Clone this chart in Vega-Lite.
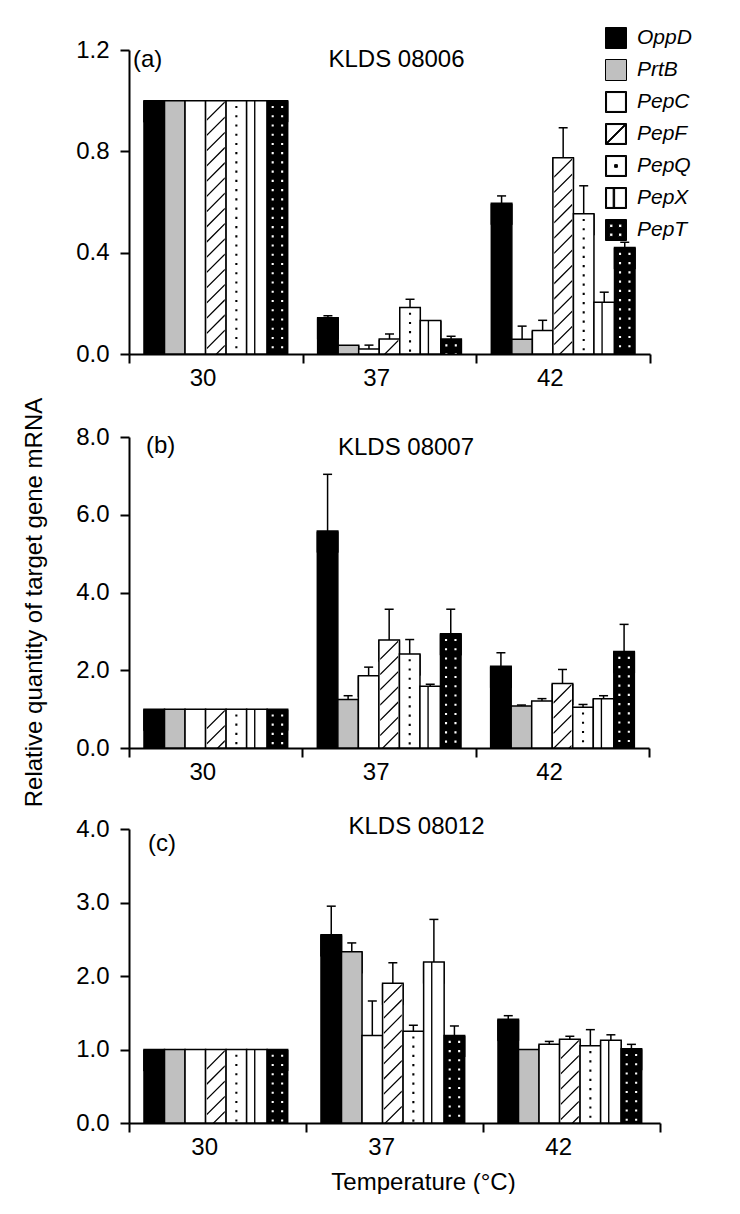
{
"$schema": "https://vega.github.io/schema/vega-lite/v6.json",
"padding": {"left": 21, "top": 27, "right": 0, "bottom": 0},
"spacing": 7,
"datasets": {"d": [
{"p":"a","temp":"30","gene":"OppD","value":1,"hi":1},{"p":"a","temp":"30","gene":"PrtB","value":1,"hi":1},{"p":"a","temp":"30","gene":"PepC","value":1,"hi":1},{"p":"a","temp":"30","gene":"PepF","value":1,"hi":1},{"p":"a","temp":"30","gene":"PepQ","value":1,"hi":1},{"p":"a","temp":"30","gene":"PepX","value":1,"hi":1},{"p":"a","temp":"30","gene":"PepT","value":1,"hi":1},
{"p":"a","temp":"37","gene":"OppD","value":0.143,"hi":0.151},{"p":"a","temp":"37","gene":"PrtB","value":0.035,"hi":0.035},{"p":"a","temp":"37","gene":"PepC","value":0.02,"hi":0.035},{"p":"a","temp":"37","gene":"PepF","value":0.059,"hi":0.079},{"p":"a","temp":"37","gene":"PepQ","value":0.184,"hi":0.216},{"p":"a","temp":"37","gene":"PepX","value":0.132,"hi":0.132},{"p":"a","temp":"37","gene":"PepT","value":0.059,"hi":0.07},
{"p":"a","temp":"42","gene":"OppD","value":0.595,"hi":0.624},{"p":"a","temp":"42","gene":"PrtB","value":0.058,"hi":0.11},{"p":"a","temp":"42","gene":"PepC","value":0.093,"hi":0.133},{"p":"a","temp":"42","gene":"PepF","value":0.775,"hi":0.893},{"p":"a","temp":"42","gene":"PepQ","value":0.554,"hi":0.664},{"p":"a","temp":"42","gene":"PepX","value":0.204,"hi":0.244},{"p":"a","temp":"42","gene":"PepT","value":0.42,"hi":0.441},
{"p":"b","temp":"30","gene":"OppD","value":1,"hi":1},{"p":"b","temp":"30","gene":"PrtB","value":1,"hi":1},{"p":"b","temp":"30","gene":"PepC","value":1,"hi":1},{"p":"b","temp":"30","gene":"PepF","value":1,"hi":1},{"p":"b","temp":"30","gene":"PepQ","value":1,"hi":1},{"p":"b","temp":"30","gene":"PepX","value":1,"hi":1},{"p":"b","temp":"30","gene":"PepT","value":1,"hi":1},
{"p":"b","temp":"37","gene":"OppD","value":5.58,"hi":7.04},{"p":"b","temp":"37","gene":"PrtB","value":1.25,"hi":1.345},{"p":"b","temp":"37","gene":"PepC","value":1.86,"hi":2.08},{"p":"b","temp":"37","gene":"PepF","value":2.78,"hi":3.57},{"p":"b","temp":"37","gene":"PepQ","value":2.42,"hi":2.79},{"p":"b","temp":"37","gene":"PepX","value":1.59,"hi":1.64},{"p":"b","temp":"37","gene":"PepT","value":2.94,"hi":3.57},
{"p":"b","temp":"42","gene":"OppD","value":2.1,"hi":2.45},{"p":"b","temp":"42","gene":"PrtB","value":1.08,"hi":1.105},{"p":"b","temp":"42","gene":"PepC","value":1.21,"hi":1.27},{"p":"b","temp":"42","gene":"PepF","value":1.66,"hi":2.02},{"p":"b","temp":"42","gene":"PepQ","value":1.05,"hi":1.12},{"p":"b","temp":"42","gene":"PepX","value":1.27,"hi":1.345},{"p":"b","temp":"42","gene":"PepT","value":2.48,"hi":3.18},
{"p":"c","temp":"30","gene":"OppD","value":1,"hi":1},{"p":"c","temp":"30","gene":"PrtB","value":1,"hi":1},{"p":"c","temp":"30","gene":"PepC","value":1,"hi":1},{"p":"c","temp":"30","gene":"PepF","value":1,"hi":1},{"p":"c","temp":"30","gene":"PepQ","value":1,"hi":1},{"p":"c","temp":"30","gene":"PepX","value":1,"hi":1},{"p":"c","temp":"30","gene":"PepT","value":1,"hi":1},
{"p":"c","temp":"37","gene":"OppD","value":2.56,"hi":2.95},{"p":"c","temp":"37","gene":"PrtB","value":2.33,"hi":2.45},{"p":"c","temp":"37","gene":"PepC","value":1.19,"hi":1.66},{"p":"c","temp":"37","gene":"PepF","value":1.9,"hi":2.18},{"p":"c","temp":"37","gene":"PepQ","value":1.25,"hi":1.33},{"p":"c","temp":"37","gene":"PepX","value":2.19,"hi":2.77},{"p":"c","temp":"37","gene":"PepT","value":1.19,"hi":1.32},
{"p":"c","temp":"42","gene":"OppD","value":1.41,"hi":1.46},{"p":"c","temp":"42","gene":"PrtB","value":1.0,"hi":1.0},{"p":"c","temp":"42","gene":"PepC","value":1.07,"hi":1.11},{"p":"c","temp":"42","gene":"PepF","value":1.14,"hi":1.18},{"p":"c","temp":"42","gene":"PepQ","value":1.05,"hi":1.27},{"p":"c","temp":"42","gene":"PepX","value":1.125,"hi":1.2},{"p":"c","temp":"42","gene":"PepT","value":1.01,"hi":1.07}
]},
"data": {"name": "d"},
"config": {
  "view": {"stroke": null},
  "font": "Liberation Sans",
  "axis": {"domainColor": "black", "domainWidth": 2, "tickColor": "black", "tickWidth": 2, "tickSize": 9, "labelFont": "Liberation Sans", "labelFontSize": 24, "labelColor": "black", "grid": false, "titleFont": "Liberation Sans", "titleFontSize": 24, "titleFontWeight": "normal", "titleColor": "black"}
},
"vconcat": [
{
 "width": 521, "height": 304,
 "transform": [{"filter": "datum.p === 'a'"}],
 "layer": [
  {"mark": {"type": "point", "filled": true, "opacity": 1, "size": 441, "stroke": "black", "strokeWidth": 1, "yOffset": 11, "clip": true},
   "encoding": {
    "x": {"field": "temp", "type": "nominal", "sort": ["30","37","42"]},
    "xOffset": {"field": "gene", "type": "nominal", "sort": ["OppD","PrtB","PepC","PepF","PepQ","PepX","PepT"]},
    "y": {"field": "value", "type": "quantitative"},
    "color": {"field": "gene", "type": "nominal", "scale": {"domain": ["OppD","PrtB","PepC","PepF","PepQ","PepX","PepT"], "range": ["black","#c0c0c0","black","black","black","black","black"]}, "legend": {"title": null, "orient": "none", "legendX": 476, "legendY": -23, "symbolSize": 441, "symbolStrokeWidth": 1, "symbolStrokeColor": "black", "labelFontSize": 21, "labelFontStyle": "italic", "labelFont": "Liberation Sans", "labelColor": "black", "labelOffset": 10, "rowPadding": 6, "padding": 0, "labelBaseline": "middle"}},
    "shape": {"field": "gene", "type": "nominal", "scale": {"domain": ["OppD","PrtB","PepC","PepF","PepQ","PepX","PepT"], "range": ["M-1,-1H1V1H-1Z","M-1,-1H1V1H-1Z","M-1,-1H1V1H-1ZM-.9,-.9V.9H.9V-.9Z","M-1,-1H1V1H-1ZM-.9,-.9V.9H.9V-.9ZM-.9,.82L.82,-.9H.9V-.82L-.82,.9H-.9Z","M-1,-1H1V1H-1ZM-.9,-.9V.9H.9V-.9ZM-.13,-.13H.13V.13H-.13Z","M-1,-1H1V1H-1ZM-.9,-.9V.9H.9V-.9ZM-.27,-.9H-.13V.9H-.27Z","M-1,-1H1V1H-1ZM-.61,-.56V-.24H-.29V-.56ZM.24,-.56V-.24H.56V-.56ZM-.61,.29V.61H-.29V.29ZM.24,.29V.61H.56V.29Z"]}, "legend": {"title": null, "orient": "none", "legendX": 476, "legendY": -23, "symbolSize": 441, "symbolStrokeWidth": 1, "symbolStrokeColor": "black", "labelFontSize": 21, "labelFontStyle": "italic", "labelFont": "Liberation Sans", "labelColor": "black", "labelOffset": 10, "rowPadding": 6, "padding": 0, "labelBaseline": "middle"}}
   }},
  {"mark": {"type": "bar", "stroke": "black", "strokeWidth": 1.5, "opacity": 1},
   "encoding": {
    "x": {"field": "temp", "type": "nominal", "sort": ["30","37","42"], "scale": {"paddingInner": 0, "paddingOuter": 0}, "axis": {"title": null, "labelAngle": 0, "tickBand": "extent", "labelPadding": 15}},
    "xOffset": {"field": "gene", "type": "nominal", "sort": ["OppD","PrtB","PepC","PepF","PepQ","PepX","PepT"], "scale": {"domain": ["OppD","PrtB","PepC","PepF","PepQ","PepX","PepT"], "paddingInner": 0, "paddingOuter": 0.73}},
    "y": {"field": "value", "type": "quantitative", "scale": {"domain": [0, 1.2], "nice": false}, "axis": {"values": [0, 0.4, 0.8, 1.2], "format": ".1f", "title": null, "labelPadding": 11}},
    "fill": {"field": "gene", "type": "nominal", "scale": {"domain": ["OppD","PrtB","PepC","PepF","PepQ","PepX","PepT"], "range": ["black","#c0c0c0","white","white","white","white","black"]}, "legend": null}
   }},
  {"transform": [{"filter": "datum.gene === 'PepF'"}],
   "mark": {"type": "point", "shape": "M-.85,1.75l1.7,-1.7v.17l-1.7,1.7zM-.85,3.2l1.7,-1.7v.17l-1.7,1.7zM-.85,4.65l1.7,-1.7v.17l-1.7,1.7zM-.85,6.1l1.7,-1.7v.17l-1.7,1.7zM-.85,7.55l1.7,-1.7v.17l-1.7,1.7zM-.85,9l1.7,-1.7v.17l-1.7,1.7zM-.85,10.45l1.7,-1.7v.17l-1.7,1.7zM-.85,11.9l1.7,-1.7v.17l-1.7,1.7zM-.85,13.35l1.7,-1.7v.17l-1.7,1.7zM-.85,14.8l1.7,-1.7v.17l-1.7,1.7zM-.85,16.25l1.7,-1.7v.17l-1.7,1.7zM-.85,17.7l1.7,-1.7v.17l-1.7,1.7zM-.85,19.15l1.7,-1.7v.17l-1.7,1.7zM-.85,20.6l1.7,-1.7v.17l-1.7,1.7zM-.85,22.05l1.7,-1.7v.17l-1.7,1.7zM-.85,23.5l1.7,-1.7v.17l-1.7,1.7zM-.85,24.95l1.7,-1.7v.17l-1.7,1.7zM-.85,26.4l1.7,-1.7v.17l-1.7,1.7z", "size": 441, "filled": true, "fill": "black", "opacity": 1, "strokeWidth": 0, "clip": true},
   "encoding": {"x": {"field": "temp", "type": "nominal", "sort": ["30","37","42"]}, "xOffset": {"field": "gene", "type": "nominal", "sort": ["OppD","PrtB","PepC","PepF","PepQ","PepX","PepT"]}, "y": {"field": "value", "type": "quantitative"}}},
  {"transform": [{"filter": "datum.gene === 'PepQ'"}],
   "mark": {"type": "point", "shape": "M-.1,.5h.2v.2h-.2zM-.1,1.38h.2v.2h-.2zM-.1,2.26h.2v.2h-.2zM-.1,3.14h.2v.2h-.2zM-.1,4.02h.2v.2h-.2zM-.1,4.9h.2v.2h-.2zM-.1,5.78h.2v.2h-.2zM-.1,6.66h.2v.2h-.2zM-.1,7.54h.2v.2h-.2zM-.1,8.42h.2v.2h-.2zM-.1,9.3h.2v.2h-.2zM-.1,10.18h.2v.2h-.2zM-.1,11.06h.2v.2h-.2zM-.1,11.94h.2v.2h-.2zM-.1,12.82h.2v.2h-.2zM-.1,13.7h.2v.2h-.2zM-.1,14.58h.2v.2h-.2zM-.1,15.46h.2v.2h-.2zM-.1,16.34h.2v.2h-.2zM-.1,17.22h.2v.2h-.2zM-.1,18.1h.2v.2h-.2zM-.1,18.98h.2v.2h-.2zM-.1,19.86h.2v.2h-.2zM-.1,20.74h.2v.2h-.2zM-.1,21.62h.2v.2h-.2zM-.1,22.5h.2v.2h-.2zM-.1,23.38h.2v.2h-.2zM-.1,24.26h.2v.2h-.2zM-.1,25.14h.2v.2h-.2zM-.1,26.02h.2v.2h-.2z", "size": 441, "filled": true, "fill": "black", "opacity": 1, "strokeWidth": 0, "clip": true},
   "encoding": {"x": {"field": "temp", "type": "nominal", "sort": ["30","37","42"]}, "xOffset": {"field": "gene", "type": "nominal", "sort": ["OppD","PrtB","PepC","PepF","PepQ","PepX","PepT"]}, "y": {"field": "value", "type": "quantitative"}}},
  {"transform": [{"filter": "datum.gene === 'PepX'"}],
   "mark": {"type": "point", "shape": "M-.27,0h.13v27h-.13z", "size": 441, "filled": true, "fill": "black", "opacity": 1, "strokeWidth": 0, "clip": true},
   "encoding": {"x": {"field": "temp", "type": "nominal", "sort": ["30","37","42"]}, "xOffset": {"field": "gene", "type": "nominal", "sort": ["OppD","PrtB","PepC","PepF","PepQ","PepX","PepT"]}, "y": {"field": "value", "type": "quantitative"}}},
  {"transform": [{"filter": "datum.gene === 'PepT'"}],
   "mark": {"type": "point", "shape": "M-.55,.5h.2v.2h-.2zM.35,.5h.2v.2h-.2zM-.55,1.38h.2v.2h-.2zM.35,1.38h.2v.2h-.2zM-.55,2.26h.2v.2h-.2zM.35,2.26h.2v.2h-.2zM-.55,3.14h.2v.2h-.2zM.35,3.14h.2v.2h-.2zM-.55,4.02h.2v.2h-.2zM.35,4.02h.2v.2h-.2zM-.55,4.9h.2v.2h-.2zM.35,4.9h.2v.2h-.2zM-.55,5.78h.2v.2h-.2zM.35,5.78h.2v.2h-.2zM-.55,6.66h.2v.2h-.2zM.35,6.66h.2v.2h-.2zM-.55,7.54h.2v.2h-.2zM.35,7.54h.2v.2h-.2zM-.55,8.42h.2v.2h-.2zM.35,8.42h.2v.2h-.2zM-.55,9.3h.2v.2h-.2zM.35,9.3h.2v.2h-.2zM-.55,10.18h.2v.2h-.2zM.35,10.18h.2v.2h-.2zM-.55,11.06h.2v.2h-.2zM.35,11.06h.2v.2h-.2zM-.55,11.94h.2v.2h-.2zM.35,11.94h.2v.2h-.2zM-.55,12.82h.2v.2h-.2zM.35,12.82h.2v.2h-.2zM-.55,13.7h.2v.2h-.2zM.35,13.7h.2v.2h-.2zM-.55,14.58h.2v.2h-.2zM.35,14.58h.2v.2h-.2zM-.55,15.46h.2v.2h-.2zM.35,15.46h.2v.2h-.2zM-.55,16.34h.2v.2h-.2zM.35,16.34h.2v.2h-.2zM-.55,17.22h.2v.2h-.2zM.35,17.22h.2v.2h-.2zM-.55,18.1h.2v.2h-.2zM.35,18.1h.2v.2h-.2zM-.55,18.98h.2v.2h-.2zM.35,18.98h.2v.2h-.2zM-.55,19.86h.2v.2h-.2zM.35,19.86h.2v.2h-.2zM-.55,20.74h.2v.2h-.2zM.35,20.74h.2v.2h-.2zM-.55,21.62h.2v.2h-.2zM.35,21.62h.2v.2h-.2zM-.55,22.5h.2v.2h-.2zM.35,22.5h.2v.2h-.2zM-.55,23.38h.2v.2h-.2zM.35,23.38h.2v.2h-.2zM-.55,24.26h.2v.2h-.2zM.35,24.26h.2v.2h-.2zM-.55,25.14h.2v.2h-.2zM.35,25.14h.2v.2h-.2z", "size": 441, "filled": true, "fill": "white", "opacity": 1, "strokeWidth": 0, "clip": true},
   "encoding": {"x": {"field": "temp", "type": "nominal", "sort": ["30","37","42"]}, "xOffset": {"field": "gene", "type": "nominal", "sort": ["OppD","PrtB","PepC","PepF","PepQ","PepX","PepT"]}, "y": {"field": "value", "type": "quantitative"}}},
  {"transform": [{"filter": "datum.hi > datum.value"}],
   "mark": {"type": "rule", "color": "black", "strokeWidth": 1.5},
   "encoding": {"x": {"field": "temp", "type": "nominal", "sort": ["30","37","42"]}, "xOffset": {"field": "gene", "type": "nominal", "sort": ["OppD","PrtB","PepC","PepF","PepQ","PepX","PepT"]}, "y": {"field": "value", "type": "quantitative"}, "y2": {"field": "hi"}}},
  {"transform": [{"filter": "datum.hi > datum.value"}],
   "mark": {"type": "tick", "color": "black", "orient": "horizontal", "size": 9, "thickness": 1.5, "opacity": 1},
   "encoding": {"x": {"field": "temp", "type": "nominal", "sort": ["30","37","42"]}, "xOffset": {"field": "gene", "type": "nominal", "sort": ["OppD","PrtB","PepC","PepF","PepQ","PepX","PepT"]}, "y": {"field": "hi", "type": "quantitative"}}},
  {"data": {"values": [{}]},
   "mark": {"type": "text", "align": "left", "baseline": "middle", "dx": 4, "fontSize": 24, "font": "Liberation Sans", "color": "black"},
   "encoding": {"x": {"datum": "30", "bandPosition": 0}, "y": {"datum": 1.16, "type": "quantitative"}, "text": {"value": "(a)"}}},
  {"data": {"values": [{}]},
   "mark": {"type": "text", "align": "center", "baseline": "middle", "dx": 7, "fontSize": 24, "font": "Liberation Sans", "color": "black"},
   "encoding": {"x": {"datum": "37"}, "y": {"datum": 1.16, "type": "quantitative"}, "text": {"value": "KLDS 08006"}}}
 ]
},
{
 "width": 520, "height": 311,
 "transform": [{"filter": "datum.p === 'b'"}],
 "layer": [
  {"mark": {"type": "point", "filled": true, "opacity": 1, "size": 441, "stroke": "black", "strokeWidth": 1, "yOffset": 11, "clip": true},
   "encoding": {
    "x": {"field": "temp", "type": "nominal", "sort": ["30","37","42"]},
    "xOffset": {"field": "gene", "type": "nominal", "sort": ["OppD","PrtB","PepC","PepF","PepQ","PepX","PepT"]},
    "y": {"field": "value", "type": "quantitative"},
    "color": {"field": "gene", "type": "nominal", "scale": {"domain": ["OppD","PrtB","PepC","PepF","PepQ","PepX","PepT"], "range": ["black","#c0c0c0","black","black","black","black","black"]}, "legend": {"title": null, "orient": "none", "legendX": 487, "legendY": -22, "symbolSize": 441, "symbolStrokeWidth": 1, "symbolStrokeColor": "black", "labelFontSize": 21, "labelFontStyle": "italic", "labelFont": "Liberation Sans", "labelColor": "black", "labelOffset": 10, "rowPadding": 6, "padding": 0, "labelBaseline": "middle"}},
    "shape": {"field": "gene", "type": "nominal", "scale": {"domain": ["OppD","PrtB","PepC","PepF","PepQ","PepX","PepT"], "range": ["M-1,-1H1V1H-1Z","M-1,-1H1V1H-1Z","M-1,-1H1V1H-1ZM-.9,-.9V.9H.9V-.9Z","M-1,-1H1V1H-1ZM-.9,-.9V.9H.9V-.9ZM-.9,.82L.82,-.9H.9V-.82L-.82,.9H-.9Z","M-1,-1H1V1H-1ZM-.9,-.9V.9H.9V-.9ZM-.13,-.13H.13V.13H-.13Z","M-1,-1H1V1H-1ZM-.9,-.9V.9H.9V-.9ZM-.27,-.9H-.13V.9H-.27Z","M-1,-1H1V1H-1ZM-.61,-.56V-.24H-.29V-.56ZM.24,-.56V-.24H.56V-.56ZM-.61,.29V.61H-.29V.29ZM.24,.29V.61H.56V.29Z"]}, "legend": {"title": null, "orient": "none", "legendX": 487, "legendY": -22, "symbolSize": 441, "symbolStrokeWidth": 1, "symbolStrokeColor": "black", "labelFontSize": 21, "labelFontStyle": "italic", "labelFont": "Liberation Sans", "labelColor": "black", "labelOffset": 10, "rowPadding": 6, "padding": 0, "labelBaseline": "middle"}}
   }},
  {"mark": {"type": "bar", "stroke": "black", "strokeWidth": 1.5, "opacity": 1},
   "encoding": {
    "x": {"field": "temp", "type": "nominal", "sort": ["30","37","42"], "scale": {"paddingInner": 0, "paddingOuter": 0}, "axis": {"title": null, "labelAngle": 0, "tickBand": "extent", "labelPadding": 15}},
    "xOffset": {"field": "gene", "type": "nominal", "sort": ["OppD","PrtB","PepC","PepF","PepQ","PepX","PepT"], "scale": {"domain": ["OppD","PrtB","PepC","PepF","PepQ","PepX","PepT"], "paddingInner": 0, "paddingOuter": 0.73}},
    "y": {"field": "value", "type": "quantitative", "scale": {"domain": [0, 8], "nice": false}, "axis": {"values": [0, 2, 4, 6, 8], "format": ".1f", "title": "Relative quantity of target gene mRNA", "titleX": -95, "titleY": 165, "titleAlign": "center", "titleBaseline": "middle", "titleAngle": -90, "labelPadding": 11}},
    "fill": {"field": "gene", "type": "nominal", "scale": {"domain": ["OppD","PrtB","PepC","PepF","PepQ","PepX","PepT"], "range": ["black","#c0c0c0","white","white","white","white","black"]}, "legend": null}
   }},
  {"transform": [{"filter": "datum.gene === 'PepF'"}],
   "mark": {"type": "point", "shape": "M-.85,1.75l1.7,-1.7v.17l-1.7,1.7zM-.85,3.2l1.7,-1.7v.17l-1.7,1.7zM-.85,4.65l1.7,-1.7v.17l-1.7,1.7zM-.85,6.1l1.7,-1.7v.17l-1.7,1.7zM-.85,7.55l1.7,-1.7v.17l-1.7,1.7zM-.85,9l1.7,-1.7v.17l-1.7,1.7zM-.85,10.45l1.7,-1.7v.17l-1.7,1.7zM-.85,11.9l1.7,-1.7v.17l-1.7,1.7zM-.85,13.35l1.7,-1.7v.17l-1.7,1.7zM-.85,14.8l1.7,-1.7v.17l-1.7,1.7zM-.85,16.25l1.7,-1.7v.17l-1.7,1.7zM-.85,17.7l1.7,-1.7v.17l-1.7,1.7zM-.85,19.15l1.7,-1.7v.17l-1.7,1.7zM-.85,20.6l1.7,-1.7v.17l-1.7,1.7zM-.85,22.05l1.7,-1.7v.17l-1.7,1.7zM-.85,23.5l1.7,-1.7v.17l-1.7,1.7zM-.85,24.95l1.7,-1.7v.17l-1.7,1.7zM-.85,26.4l1.7,-1.7v.17l-1.7,1.7z", "size": 441, "filled": true, "fill": "black", "opacity": 1, "strokeWidth": 0, "clip": true},
   "encoding": {"x": {"field": "temp", "type": "nominal", "sort": ["30","37","42"]}, "xOffset": {"field": "gene", "type": "nominal", "sort": ["OppD","PrtB","PepC","PepF","PepQ","PepX","PepT"]}, "y": {"field": "value", "type": "quantitative"}}},
  {"transform": [{"filter": "datum.gene === 'PepQ'"}],
   "mark": {"type": "point", "shape": "M-.1,.5h.2v.2h-.2zM-.1,1.38h.2v.2h-.2zM-.1,2.26h.2v.2h-.2zM-.1,3.14h.2v.2h-.2zM-.1,4.02h.2v.2h-.2zM-.1,4.9h.2v.2h-.2zM-.1,5.78h.2v.2h-.2zM-.1,6.66h.2v.2h-.2zM-.1,7.54h.2v.2h-.2zM-.1,8.42h.2v.2h-.2zM-.1,9.3h.2v.2h-.2zM-.1,10.18h.2v.2h-.2zM-.1,11.06h.2v.2h-.2zM-.1,11.94h.2v.2h-.2zM-.1,12.82h.2v.2h-.2zM-.1,13.7h.2v.2h-.2zM-.1,14.58h.2v.2h-.2zM-.1,15.46h.2v.2h-.2zM-.1,16.34h.2v.2h-.2zM-.1,17.22h.2v.2h-.2zM-.1,18.1h.2v.2h-.2zM-.1,18.98h.2v.2h-.2zM-.1,19.86h.2v.2h-.2zM-.1,20.74h.2v.2h-.2zM-.1,21.62h.2v.2h-.2zM-.1,22.5h.2v.2h-.2zM-.1,23.38h.2v.2h-.2zM-.1,24.26h.2v.2h-.2zM-.1,25.14h.2v.2h-.2zM-.1,26.02h.2v.2h-.2z", "size": 441, "filled": true, "fill": "black", "opacity": 1, "strokeWidth": 0, "clip": true},
   "encoding": {"x": {"field": "temp", "type": "nominal", "sort": ["30","37","42"]}, "xOffset": {"field": "gene", "type": "nominal", "sort": ["OppD","PrtB","PepC","PepF","PepQ","PepX","PepT"]}, "y": {"field": "value", "type": "quantitative"}}},
  {"transform": [{"filter": "datum.gene === 'PepX'"}],
   "mark": {"type": "point", "shape": "M-.27,0h.13v27h-.13z", "size": 441, "filled": true, "fill": "black", "opacity": 1, "strokeWidth": 0, "clip": true},
   "encoding": {"x": {"field": "temp", "type": "nominal", "sort": ["30","37","42"]}, "xOffset": {"field": "gene", "type": "nominal", "sort": ["OppD","PrtB","PepC","PepF","PepQ","PepX","PepT"]}, "y": {"field": "value", "type": "quantitative"}}},
  {"transform": [{"filter": "datum.gene === 'PepT'"}],
   "mark": {"type": "point", "shape": "M-.55,.5h.2v.2h-.2zM.35,.5h.2v.2h-.2zM-.55,1.38h.2v.2h-.2zM.35,1.38h.2v.2h-.2zM-.55,2.26h.2v.2h-.2zM.35,2.26h.2v.2h-.2zM-.55,3.14h.2v.2h-.2zM.35,3.14h.2v.2h-.2zM-.55,4.02h.2v.2h-.2zM.35,4.02h.2v.2h-.2zM-.55,4.9h.2v.2h-.2zM.35,4.9h.2v.2h-.2zM-.55,5.78h.2v.2h-.2zM.35,5.78h.2v.2h-.2zM-.55,6.66h.2v.2h-.2zM.35,6.66h.2v.2h-.2zM-.55,7.54h.2v.2h-.2zM.35,7.54h.2v.2h-.2zM-.55,8.42h.2v.2h-.2zM.35,8.42h.2v.2h-.2zM-.55,9.3h.2v.2h-.2zM.35,9.3h.2v.2h-.2zM-.55,10.18h.2v.2h-.2zM.35,10.18h.2v.2h-.2zM-.55,11.06h.2v.2h-.2zM.35,11.06h.2v.2h-.2zM-.55,11.94h.2v.2h-.2zM.35,11.94h.2v.2h-.2zM-.55,12.82h.2v.2h-.2zM.35,12.82h.2v.2h-.2zM-.55,13.7h.2v.2h-.2zM.35,13.7h.2v.2h-.2zM-.55,14.58h.2v.2h-.2zM.35,14.58h.2v.2h-.2zM-.55,15.46h.2v.2h-.2zM.35,15.46h.2v.2h-.2zM-.55,16.34h.2v.2h-.2zM.35,16.34h.2v.2h-.2zM-.55,17.22h.2v.2h-.2zM.35,17.22h.2v.2h-.2zM-.55,18.1h.2v.2h-.2zM.35,18.1h.2v.2h-.2zM-.55,18.98h.2v.2h-.2zM.35,18.98h.2v.2h-.2zM-.55,19.86h.2v.2h-.2zM.35,19.86h.2v.2h-.2zM-.55,20.74h.2v.2h-.2zM.35,20.74h.2v.2h-.2zM-.55,21.62h.2v.2h-.2zM.35,21.62h.2v.2h-.2zM-.55,22.5h.2v.2h-.2zM.35,22.5h.2v.2h-.2zM-.55,23.38h.2v.2h-.2zM.35,23.38h.2v.2h-.2zM-.55,24.26h.2v.2h-.2zM.35,24.26h.2v.2h-.2zM-.55,25.14h.2v.2h-.2zM.35,25.14h.2v.2h-.2z", "size": 441, "filled": true, "fill": "white", "opacity": 1, "strokeWidth": 0, "clip": true},
   "encoding": {"x": {"field": "temp", "type": "nominal", "sort": ["30","37","42"]}, "xOffset": {"field": "gene", "type": "nominal", "sort": ["OppD","PrtB","PepC","PepF","PepQ","PepX","PepT"]}, "y": {"field": "value", "type": "quantitative"}}},
  {"transform": [{"filter": "datum.hi > datum.value"}],
   "mark": {"type": "rule", "color": "black", "strokeWidth": 1.5},
   "encoding": {"x": {"field": "temp", "type": "nominal", "sort": ["30","37","42"]}, "xOffset": {"field": "gene", "type": "nominal", "sort": ["OppD","PrtB","PepC","PepF","PepQ","PepX","PepT"]}, "y": {"field": "value", "type": "quantitative"}, "y2": {"field": "hi"}}},
  {"transform": [{"filter": "datum.hi > datum.value"}],
   "mark": {"type": "tick", "color": "black", "orient": "horizontal", "size": 9, "thickness": 1.5, "opacity": 1},
   "encoding": {"x": {"field": "temp", "type": "nominal", "sort": ["30","37","42"]}, "xOffset": {"field": "gene", "type": "nominal", "sort": ["OppD","PrtB","PepC","PepF","PepQ","PepX","PepT"]}, "y": {"field": "hi", "type": "quantitative"}}},
  {"data": {"values": [{}]},
   "mark": {"type": "text", "align": "left", "baseline": "middle", "dx": 17, "fontSize": 24, "font": "Liberation Sans", "color": "black"},
   "encoding": {"x": {"datum": "30", "bandPosition": 0}, "y": {"datum": 7.76, "type": "quantitative"}, "text": {"value": "(b)"}}},
  {"data": {"values": [{}]},
   "mark": {"type": "text", "align": "center", "baseline": "middle", "dx": 17, "fontSize": 24, "font": "Liberation Sans", "color": "black"},
   "encoding": {"x": {"datum": "37"}, "y": {"datum": 7.71, "type": "quantitative"}, "text": {"value": "KLDS 08007"}}}
 ]
},
{
 "width": 531, "height": 294,
 "transform": [{"filter": "datum.p === 'c'"}],
 "layer": [
  {"mark": {"type": "point", "filled": true, "opacity": 1, "size": 441, "stroke": "black", "strokeWidth": 1, "yOffset": 11, "clip": true},
   "encoding": {
    "x": {"field": "temp", "type": "nominal", "sort": ["30","37","42"]},
    "xOffset": {"field": "gene", "type": "nominal", "sort": ["OppD","PrtB","PepC","PepF","PepQ","PepX","PepT"]},
    "y": {"field": "value", "type": "quantitative"},
    "color": {"field": "gene", "type": "nominal", "scale": {"domain": ["OppD","PrtB","PepC","PepF","PepQ","PepX","PepT"], "range": ["black","#c0c0c0","black","black","black","black","black"]}, "legend": {"title": null, "orient": "none", "legendX": 500, "legendY": -20, "symbolSize": 441, "symbolStrokeWidth": 1, "symbolStrokeColor": "black", "labelFontSize": 21, "labelFontStyle": "italic", "labelFont": "Liberation Sans", "labelColor": "black", "labelOffset": 10, "rowPadding": 8.5, "padding": 0, "labelBaseline": "middle"}},
    "shape": {"field": "gene", "type": "nominal", "scale": {"domain": ["OppD","PrtB","PepC","PepF","PepQ","PepX","PepT"], "range": ["M-1,-1H1V1H-1Z","M-1,-1H1V1H-1Z","M-1,-1H1V1H-1ZM-.9,-.9V.9H.9V-.9Z","M-1,-1H1V1H-1ZM-.9,-.9V.9H.9V-.9ZM-.9,.82L.82,-.9H.9V-.82L-.82,.9H-.9Z","M-1,-1H1V1H-1ZM-.9,-.9V.9H.9V-.9ZM-.13,-.13H.13V.13H-.13Z","M-1,-1H1V1H-1ZM-.9,-.9V.9H.9V-.9ZM-.27,-.9H-.13V.9H-.27Z","M-1,-1H1V1H-1ZM-.61,-.56V-.24H-.29V-.56ZM.24,-.56V-.24H.56V-.56ZM-.61,.29V.61H-.29V.29ZM.24,.29V.61H.56V.29Z"]}, "legend": {"title": null, "orient": "none", "legendX": 500, "legendY": -20, "symbolSize": 441, "symbolStrokeWidth": 1, "symbolStrokeColor": "black", "labelFontSize": 21, "labelFontStyle": "italic", "labelFont": "Liberation Sans", "labelColor": "black", "labelOffset": 10, "rowPadding": 8.5, "padding": 0, "labelBaseline": "middle"}}
   }},
  {"mark": {"type": "bar", "stroke": "black", "strokeWidth": 1.5, "opacity": 1},
   "encoding": {
    "x": {"field": "temp", "type": "nominal", "sort": ["30","37","42"], "scale": {"paddingInner": 0, "paddingOuter": 0}, "axis": {"title": "Temperature (°C)", "titleX": 294, "titleAlign": "center", "titlePadding": 11, "labelAngle": 0, "tickBand": "extent", "labelPadding": 15}},
    "xOffset": {"field": "gene", "type": "nominal", "sort": ["OppD","PrtB","PepC","PepF","PepQ","PepX","PepT"], "scale": {"domain": ["OppD","PrtB","PepC","PepF","PepQ","PepX","PepT"], "paddingInner": 0, "paddingOuter": 0.73}},
    "y": {"field": "value", "type": "quantitative", "scale": {"domain": [0, 4], "nice": false}, "axis": {"values": [0, 1, 2, 3, 4], "format": ".1f", "title": null, "labelPadding": 11}},
    "fill": {"field": "gene", "type": "nominal", "scale": {"domain": ["OppD","PrtB","PepC","PepF","PepQ","PepX","PepT"], "range": ["black","#c0c0c0","white","white","white","white","black"]}, "legend": null}
   }},
  {"transform": [{"filter": "datum.gene === 'PepF'"}],
   "mark": {"type": "point", "shape": "M-.85,1.75l1.7,-1.7v.17l-1.7,1.7zM-.85,3.2l1.7,-1.7v.17l-1.7,1.7zM-.85,4.65l1.7,-1.7v.17l-1.7,1.7zM-.85,6.1l1.7,-1.7v.17l-1.7,1.7zM-.85,7.55l1.7,-1.7v.17l-1.7,1.7zM-.85,9l1.7,-1.7v.17l-1.7,1.7zM-.85,10.45l1.7,-1.7v.17l-1.7,1.7zM-.85,11.9l1.7,-1.7v.17l-1.7,1.7zM-.85,13.35l1.7,-1.7v.17l-1.7,1.7zM-.85,14.8l1.7,-1.7v.17l-1.7,1.7zM-.85,16.25l1.7,-1.7v.17l-1.7,1.7zM-.85,17.7l1.7,-1.7v.17l-1.7,1.7zM-.85,19.15l1.7,-1.7v.17l-1.7,1.7zM-.85,20.6l1.7,-1.7v.17l-1.7,1.7zM-.85,22.05l1.7,-1.7v.17l-1.7,1.7zM-.85,23.5l1.7,-1.7v.17l-1.7,1.7zM-.85,24.95l1.7,-1.7v.17l-1.7,1.7zM-.85,26.4l1.7,-1.7v.17l-1.7,1.7z", "size": 441, "filled": true, "fill": "black", "opacity": 1, "strokeWidth": 0, "clip": true},
   "encoding": {"x": {"field": "temp", "type": "nominal", "sort": ["30","37","42"]}, "xOffset": {"field": "gene", "type": "nominal", "sort": ["OppD","PrtB","PepC","PepF","PepQ","PepX","PepT"]}, "y": {"field": "value", "type": "quantitative"}}},
  {"transform": [{"filter": "datum.gene === 'PepQ'"}],
   "mark": {"type": "point", "shape": "M-.1,.5h.2v.2h-.2zM-.1,1.38h.2v.2h-.2zM-.1,2.26h.2v.2h-.2zM-.1,3.14h.2v.2h-.2zM-.1,4.02h.2v.2h-.2zM-.1,4.9h.2v.2h-.2zM-.1,5.78h.2v.2h-.2zM-.1,6.66h.2v.2h-.2zM-.1,7.54h.2v.2h-.2zM-.1,8.42h.2v.2h-.2zM-.1,9.3h.2v.2h-.2zM-.1,10.18h.2v.2h-.2zM-.1,11.06h.2v.2h-.2zM-.1,11.94h.2v.2h-.2zM-.1,12.82h.2v.2h-.2zM-.1,13.7h.2v.2h-.2zM-.1,14.58h.2v.2h-.2zM-.1,15.46h.2v.2h-.2zM-.1,16.34h.2v.2h-.2zM-.1,17.22h.2v.2h-.2zM-.1,18.1h.2v.2h-.2zM-.1,18.98h.2v.2h-.2zM-.1,19.86h.2v.2h-.2zM-.1,20.74h.2v.2h-.2zM-.1,21.62h.2v.2h-.2zM-.1,22.5h.2v.2h-.2zM-.1,23.38h.2v.2h-.2zM-.1,24.26h.2v.2h-.2zM-.1,25.14h.2v.2h-.2zM-.1,26.02h.2v.2h-.2z", "size": 441, "filled": true, "fill": "black", "opacity": 1, "strokeWidth": 0, "clip": true},
   "encoding": {"x": {"field": "temp", "type": "nominal", "sort": ["30","37","42"]}, "xOffset": {"field": "gene", "type": "nominal", "sort": ["OppD","PrtB","PepC","PepF","PepQ","PepX","PepT"]}, "y": {"field": "value", "type": "quantitative"}}},
  {"transform": [{"filter": "datum.gene === 'PepX'"}],
   "mark": {"type": "point", "shape": "M-.27,0h.13v27h-.13z", "size": 441, "filled": true, "fill": "black", "opacity": 1, "strokeWidth": 0, "clip": true},
   "encoding": {"x": {"field": "temp", "type": "nominal", "sort": ["30","37","42"]}, "xOffset": {"field": "gene", "type": "nominal", "sort": ["OppD","PrtB","PepC","PepF","PepQ","PepX","PepT"]}, "y": {"field": "value", "type": "quantitative"}}},
  {"transform": [{"filter": "datum.gene === 'PepT'"}],
   "mark": {"type": "point", "shape": "M-.55,.5h.2v.2h-.2zM.35,.5h.2v.2h-.2zM-.55,1.38h.2v.2h-.2zM.35,1.38h.2v.2h-.2zM-.55,2.26h.2v.2h-.2zM.35,2.26h.2v.2h-.2zM-.55,3.14h.2v.2h-.2zM.35,3.14h.2v.2h-.2zM-.55,4.02h.2v.2h-.2zM.35,4.02h.2v.2h-.2zM-.55,4.9h.2v.2h-.2zM.35,4.9h.2v.2h-.2zM-.55,5.78h.2v.2h-.2zM.35,5.78h.2v.2h-.2zM-.55,6.66h.2v.2h-.2zM.35,6.66h.2v.2h-.2zM-.55,7.54h.2v.2h-.2zM.35,7.54h.2v.2h-.2zM-.55,8.42h.2v.2h-.2zM.35,8.42h.2v.2h-.2zM-.55,9.3h.2v.2h-.2zM.35,9.3h.2v.2h-.2zM-.55,10.18h.2v.2h-.2zM.35,10.18h.2v.2h-.2zM-.55,11.06h.2v.2h-.2zM.35,11.06h.2v.2h-.2zM-.55,11.94h.2v.2h-.2zM.35,11.94h.2v.2h-.2zM-.55,12.82h.2v.2h-.2zM.35,12.82h.2v.2h-.2zM-.55,13.7h.2v.2h-.2zM.35,13.7h.2v.2h-.2zM-.55,14.58h.2v.2h-.2zM.35,14.58h.2v.2h-.2zM-.55,15.46h.2v.2h-.2zM.35,15.46h.2v.2h-.2zM-.55,16.34h.2v.2h-.2zM.35,16.34h.2v.2h-.2zM-.55,17.22h.2v.2h-.2zM.35,17.22h.2v.2h-.2zM-.55,18.1h.2v.2h-.2zM.35,18.1h.2v.2h-.2zM-.55,18.98h.2v.2h-.2zM.35,18.98h.2v.2h-.2zM-.55,19.86h.2v.2h-.2zM.35,19.86h.2v.2h-.2zM-.55,20.74h.2v.2h-.2zM.35,20.74h.2v.2h-.2zM-.55,21.62h.2v.2h-.2zM.35,21.62h.2v.2h-.2zM-.55,22.5h.2v.2h-.2zM.35,22.5h.2v.2h-.2zM-.55,23.38h.2v.2h-.2zM.35,23.38h.2v.2h-.2zM-.55,24.26h.2v.2h-.2zM.35,24.26h.2v.2h-.2zM-.55,25.14h.2v.2h-.2zM.35,25.14h.2v.2h-.2z", "size": 441, "filled": true, "fill": "white", "opacity": 1, "strokeWidth": 0, "clip": true},
   "encoding": {"x": {"field": "temp", "type": "nominal", "sort": ["30","37","42"]}, "xOffset": {"field": "gene", "type": "nominal", "sort": ["OppD","PrtB","PepC","PepF","PepQ","PepX","PepT"]}, "y": {"field": "value", "type": "quantitative"}}},
  {"transform": [{"filter": "datum.hi > datum.value"}],
   "mark": {"type": "rule", "color": "black", "strokeWidth": 1.5},
   "encoding": {"x": {"field": "temp", "type": "nominal", "sort": ["30","37","42"]}, "xOffset": {"field": "gene", "type": "nominal", "sort": ["OppD","PrtB","PepC","PepF","PepQ","PepX","PepT"]}, "y": {"field": "value", "type": "quantitative"}, "y2": {"field": "hi"}}},
  {"transform": [{"filter": "datum.hi > datum.value"}],
   "mark": {"type": "tick", "color": "black", "orient": "horizontal", "size": 9, "thickness": 1.5, "opacity": 1},
   "encoding": {"x": {"field": "temp", "type": "nominal", "sort": ["30","37","42"]}, "xOffset": {"field": "gene", "type": "nominal", "sort": ["OppD","PrtB","PepC","PepF","PepQ","PepX","PepT"]}, "y": {"field": "hi", "type": "quantitative"}}},
  {"data": {"values": [{}]},
   "mark": {"type": "text", "align": "left", "baseline": "middle", "dx": 19, "fontSize": 24, "font": "Liberation Sans", "color": "black"},
   "encoding": {"x": {"datum": "30", "bandPosition": 0}, "y": {"datum": 3.8, "type": "quantitative"}, "text": {"value": "(c)"}}},
  {"data": {"values": [{}]},
   "mark": {"type": "text", "align": "center", "baseline": "middle", "dx": 22, "fontSize": 24, "font": "Liberation Sans", "color": "black"},
   "encoding": {"x": {"datum": "37"}, "y": {"datum": 4.03, "type": "quantitative"}, "text": {"value": "KLDS 08012"}}}
 ]
}
]
}
